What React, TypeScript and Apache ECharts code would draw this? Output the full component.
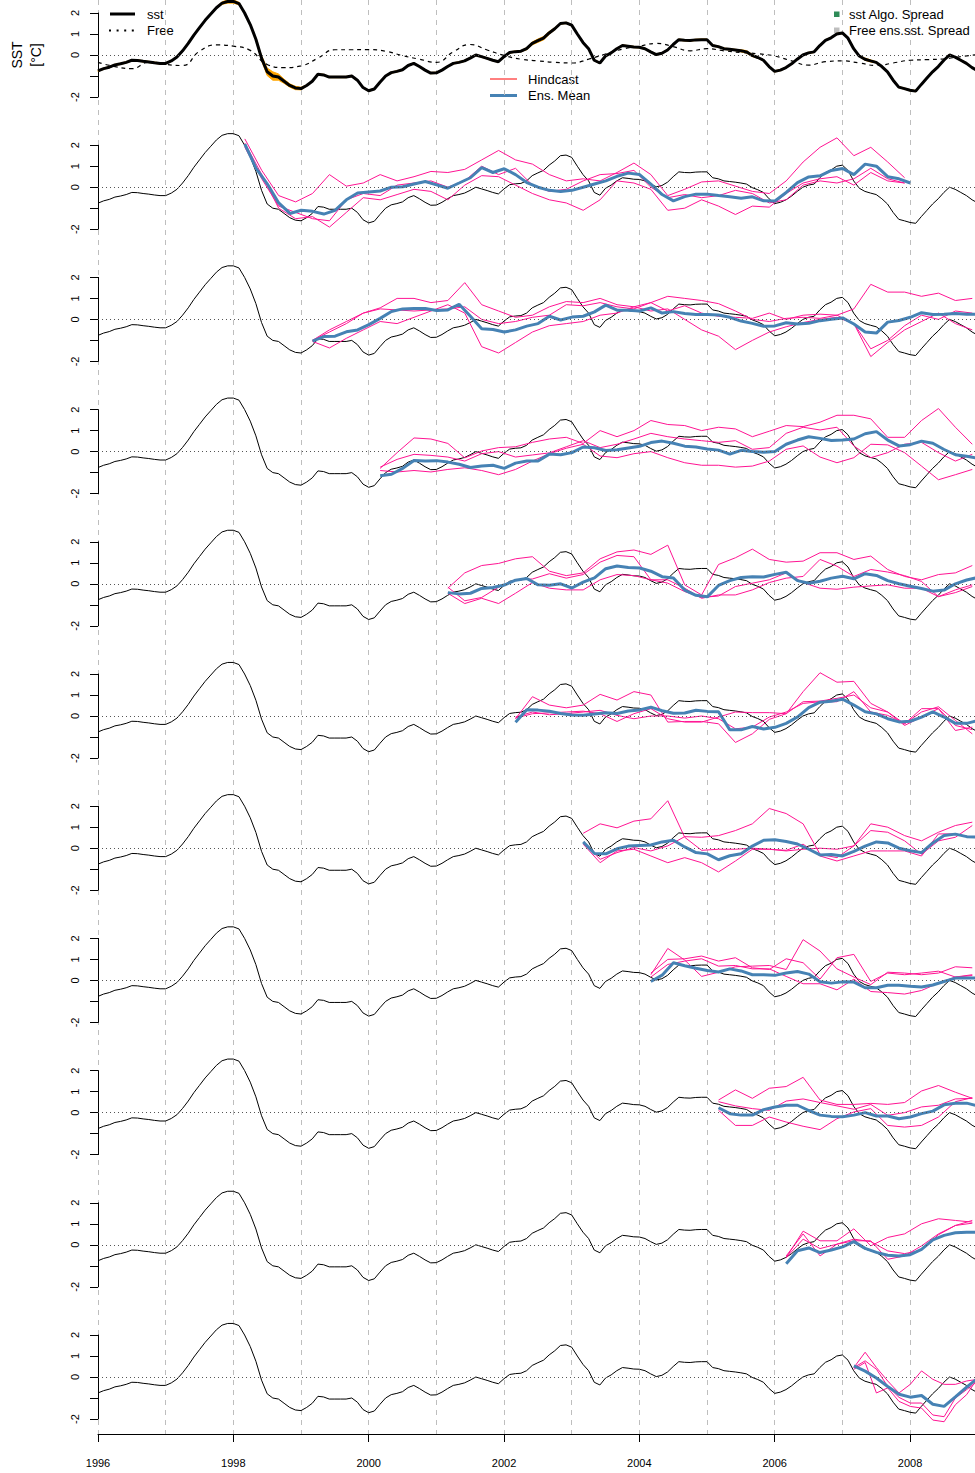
import React, { useEffect, useRef } from "react";
import * as echarts from "echarts";

// ---------- axis / time settings ----------
const X_MIN = 1996;
const X_MAX = 2008.96;
const OBS_START = 1996;
const OBS_STEP = 1 / 12;
const FREE_STEP = 0.25;
const MEAN_STEP = 1 / 6;
const MEMBER_STEP = 0.25;
const Y_TICKS = [-2, -1, 0, 1, 2];
const X_LABEL_YEARS = [1996, 1998, 2000, 2002, 2004, 2006, 2008];

// ---------- observations (monthly, 1996-01 .. 2009-01) ----------
const sst = [
  -0.76, -0.65, -0.58, -0.47, -0.42, -0.35, -0.25, -0.26, -0.3, -0.33, -0.37, -0.4,
  -0.4, -0.28, -0.1, 0.2, 0.55, 0.95, 1.3, 1.65, 1.95, 2.25, 2.47, 2.55,
  2.55, 2.45, 2.0, 1.45, 0.75, -0.15, -0.8, -1.0, -1.05, -1.25, -1.45, -1.57,
  -1.6, -1.45, -1.25, -0.92, -0.95, -1.05, -1.05, -1.05, -1.05, -1.0, -1.2, -1.55,
  -1.7, -1.62, -1.3, -1.0, -0.84, -0.78, -0.7, -0.5, -0.4, -0.55, -0.72, -0.86,
  -0.85, -0.72, -0.55, -0.4, -0.35, -0.28, -0.15, 0.0, -0.08, -0.16, -0.25, -0.32,
  -0.08, 0.12, 0.16, 0.18, 0.3, 0.55, 0.68, 0.8, 1.05, 1.25, 1.5, 1.53,
  1.42, 1.0, 0.6, 0.3, -0.25, -0.38, -0.05, 0.1, 0.3, 0.45, 0.42, 0.38,
  0.37, 0.3, 0.15, 0.02, 0.08, 0.24, 0.5, 0.73, 0.7, 0.69, 0.72, 0.73,
  0.73, 0.45, 0.4, 0.3, 0.27, 0.24, 0.2, 0.15, -0.02, -0.12, -0.25, -0.55,
  -0.78, -0.72, -0.6, -0.42, -0.2, 0.0, 0.1, 0.15, 0.45, 0.7, 0.82, 1.0,
  1.05, 0.8, 0.3, -0.05, -0.2, -0.28, -0.35, -0.55, -0.8, -1.2, -1.53, -1.6,
  -1.68, -1.72, -1.4, -1.1, -0.8, -0.55, -0.25, 0.0, -0.1, -0.25, -0.4, -0.6,
  -0.75,
];

// half-width of the sst algorithm spread (monthly)
const sstSpread = [
  0.03, 0.03, 0.03, 0.03, 0.03, 0.03, 0.03, 0.03, 0.03, 0.03, 0.03, 0.03,
  0.03, 0.03, 0.03, 0.03, 0.03, 0.03, 0.03, 0.03, 0.03, 0.03, 0.06, 0.08,
  0.08, 0.06, 0.03, 0.03, 0.05, 0.12, 0.18, 0.2, 0.15, 0.1, 0.08, 0.08,
  0.06, 0.03, 0.03, 0.03, 0.03, 0.03, 0.03, 0.03, 0.03, 0.03, 0.03, 0.03,
  0.03, 0.03, 0.03, 0.03, 0.03, 0.03, 0.03, 0.03, 0.03, 0.03, 0.03, 0.03,
  0.03, 0.03, 0.03, 0.03, 0.03, 0.03, 0.03, 0.03, 0.03, 0.03, 0.03, 0.03,
  0.03, 0.03, 0.03, 0.03, 0.05, 0.07, 0.08, 0.08, 0.07, 0.05, 0.03, 0.03,
  0.03, 0.03, 0.03, 0.03, 0.03, 0.03, 0.03, 0.03, 0.03, 0.03, 0.03, 0.03,
  0.03, 0.03, 0.03, 0.03, 0.03, 0.03, 0.03, 0.03, 0.03, 0.03, 0.03, 0.03,
  0.03, 0.03, 0.03, 0.03, 0.03, 0.03, 0.05, 0.06, 0.05, 0.03, 0.03, 0.03,
  0.03, 0.03, 0.03, 0.03, 0.03, 0.03, 0.03, 0.03, 0.03, 0.03, 0.03, 0.03,
  0.03, 0.03, 0.03, 0.03, 0.05, 0.05, 0.03, 0.03, 0.03, 0.03, 0.03, 0.03,
  0.03, 0.03, 0.03, 0.03, 0.03, 0.03, 0.03, 0.03, 0.03, 0.03, 0.03, 0.03,
  0.03,
];

// free run (quarterly, 1996.0 .. 2009.0)
const freeRun = [
  -0.35, -0.55, -0.65, -0.35, -0.45, -0.5, 0.18, 0.48, 0.42, 0.22, -0.45, -0.6,
  -0.52, -0.15, 0.25, 0.25, 0.26, 0.18, -0.03, -0.2, -0.35, 0.15, 0.5, 0.24,
  -0.02, -0.2, -0.28, -0.35, -0.38, -0.2, 0.05, 0.28, 0.42, 0.55, 0.4, 0.2,
  0.3, 0.2, 0.12, 0.06, -0.05, -0.28, -0.48, -0.32, -0.28, -0.38, -0.5, -0.38,
  -0.25, -0.22, -0.18, -0.08, 0.02,
];

// ---------- hindcasts: ensemble means (2-monthly) and 3 members (quarterly) ----------
const mean2 = [
  2.05, 0.9, 0.15, -0.75, -1.25, -1.1, -1.15, -1.28, -1.1, -0.6,
  -0.28, -0.23, -0.18, 0.0, 0.02, 0.15, 0.27, 0.11, -0.05, 0.2,
  0.45, 0.93, 0.7, 0.88, 0.6, 0.22, 0.0, -0.15, -0.2, -0.15,
  0.0, 0.15, 0.3, 0.52, 0.67, 0.6, 0.15, -0.35, -0.65, -0.45,
  -0.33, -0.33, -0.4, -0.46, -0.53, -0.46, -0.65, -0.66, -0.25, 0.22,
  0.49, 0.54, 0.8, 0.89, 0.6, 1.1, 1.0, 0.5, 0.4, 0.2,
];
const m2a = [2.3, 0.8, -0.4, -0.7, -0.3, 0.6, 0.05, 0.2, 0.6, 0.3, 0.5, 0.75, 0.7, 0.85, 1.3, 1.75, 1.3, 1.1, 0.6, 0.3, 0.4, 0.3, 0.7, 1.15, 0.6, -0.4, -0.1, 0.25, 0.3, 0.05, -0.2, -0.3, 0.3, 1.2, 1.9, 2.35, 1.5, 1.9, 1.2, 0.45];
const m2b = [2.1, 0.6, -1.0, -1.5, -1.4, -1.9, -1.2, -0.5, -0.6, -0.35, -0.1, -0.2, -0.6, 0.1, 0.55, 0.5, 0.1, -0.3, -0.6, -0.75, -1.1, -0.6, 0.3, 0.2, -0.1, -1.1, -1.0, -0.6, -0.9, -1.3, -0.9, -0.95, -0.3, 0.2, 0.4, 0.5, 0.1, 0.7, 0.3, 0.2];
const m2c = [1.9, 0.4, -0.9, -1.2, -1.5, -1.6, -0.6, -0.3, -0.4, 0.1, 0.2, 0.3, 0.0, 0.3, 1.0, 0.6, 0.9, 0.1, -0.2, -0.1, 0.3, 0.6, 0.65, 0.8, 0.0, -0.5, -0.35, -0.5, -0.4, -0.15, -0.3, -0.75, -0.6, 0.1, 0.3, 0.2, 0.4, 0.9, 0.4, 0.2];

const mean3 = [
  -1.03, -0.82, -0.8, -0.59, -0.5, -0.25, 0.05, 0.38, 0.5, 0.52,
  0.52, 0.42, 0.45, 0.72, 0.15, -0.45, -0.48, -0.6, -0.5, -0.32,
  -0.2, 0.15, -0.03, 0.11, 0.15, 0.36, 0.68, 0.44, 0.44, 0.4,
  0.55, 0.3, 0.37, 0.28, 0.23, 0.23, 0.21, 0.1, -0.08, -0.19,
  -0.33, -0.31, -0.16, -0.22, -0.18, -0.06, 0.01, 0.07, -0.22, -0.6,
  -0.65, -0.13, -0.05, 0.1, 0.32, 0.23, 0.25, 0.28, 0.24, 0.25,
];
const m3a = [-1.0, -0.6, -0.2, 0.3, 0.55, 1.0, 1.0, 0.8, 0.9, 1.75, 0.7, 0.4, 0.1, 0.2, 0.6, 0.85, 0.8, 1.0, 0.7, 0.6, 0.8, 1.1, 1.0, 0.9, 0.75, 0.4, 0.0, -0.1, 0.05, 0.1, 0.05, 0.2, 0.5, 1.67, 1.3, 1.3, 1.1, 1.25, 0.9, 1.0];
const m3b = [-1.05, -1.36, -0.9, -0.5, -0.1, -0.2, 0.1, 0.4, 0.7, 0.3, -1.3, -1.6, -1.1, -0.6, -0.3, -0.2, -0.1, 0.2, 0.3, 0.6, 0.4, 0.5, 0.0, -0.5, -0.8, -1.44, -1.0, -0.6, -0.35, -0.15, 0.0, 0.1, -0.2, -1.77, -1.1, -0.5, -0.1, 0.3, -0.2, -0.5];
const m3c = [-1.0, -0.5, -0.1, 0.3, 0.5, 0.45, 0.4, 0.45, 0.5, 0.6, 0.0, -0.2, -0.1, 0.1, 0.2, 0.7, 0.65, 0.8, 0.6, 0.5, 0.8, 0.4, 0.65, 0.3, 0.15, 0.1, 0.05, 0.3, 0.0, 0.2, 0.25, 0.2, -0.2, -1.4, -1.0, -0.3, 0.2, 0.0, 0.4, 0.3];

const mean4 = [
  -1.15, -1.08, -0.8, -0.42, -0.45, -0.43, -0.5, -0.6, -0.76, -0.69,
  -0.65, -0.8, -0.55, -0.45, -0.45, -0.12, -0.15, -0.05, 0.22, 0.18,
  0.05, 0.09, 0.17, 0.25, 0.43, 0.5, 0.4, 0.26, 0.22, 0.12,
  0.07, -0.12, 0.06, 0.01, -0.03, 0.0, 0.35, 0.55, 0.71, 0.63,
  0.53, 0.55, 0.6, 0.85, 0.95, 0.55, 0.27, 0.33, 0.5, 0.4,
  0.1, -0.15, -0.22, -0.32,
];
const m4a = [-0.8, -0.05, 0.65, 0.6, 0.39, -0.3, 0.03, 0.19, 0.23, 0.44, 0.6, 0.68, 0.39, 1.0, 0.71, 1.0, 1.48, 1.29, 1.24, 1.0, 1.16, 1.08, 0.71, 0.97, 1.24, 1.19, 1.4, 1.73, 1.73, 1.56, 0.68, 0.68, 1.48, 2.05, 1.16, 0.35];
const m4b = [-0.9, -0.97, -0.9, -0.97, -0.85, -0.77, -0.9, -1.1, -0.85, -0.45, -0.1, 0.16, 0.35, -0.21, -0.29, -0.1, 0.0, -0.29, -0.53, -0.65, -0.65, -0.74, -0.69, -0.45, 0.11, 0.27, -0.26, -0.53, -0.29, 0.35, 0.32, -0.05, -0.69, -1.34, -1.1, -0.85];
const m4c = [-0.74, -0.37, -0.13, -0.18, -0.26, -0.45, -0.1, 0.0, -0.26, -0.16, -0.06, 0.23, 0.52, 0.19, 0.35, 0.6, 0.87, 0.71, 0.6, 0.52, 0.44, 0.52, 0.11, 0.19, 0.87, 1.16, 1.03, 1.16, 0.27, -0.29, -0.05, 0.35, 0.44, -0.05, -0.45, -0.13];

const mean5 = [
  -0.42, -0.48, -0.45, -0.22, -0.18, -0.06, 0.17, 0.25, -0.05, -0.07,
  0.0, -0.2, 0.08, 0.28, 0.72, 0.85, 0.78, 0.75, 0.6, 0.34,
  0.28, -0.3, -0.55, -0.62, -0.08, 0.15, 0.3, 0.33, 0.32, 0.45,
  0.55, 0.15, 0.03, 0.12, 0.27, 0.36, 0.24, 0.48, 0.4, 0.15,
  0.0, -0.12, -0.22, -0.35, -0.3, 0.0, 0.18, 0.3,
];
const m5a = [-0.21, 0.52, 0.87, 0.97, 1.19, 1.29, 0.6, 0.39, 0.52, 1.19, 1.52, 1.61, 1.4, 1.84, -0.05, -0.53, 0.92, 1.24, 1.65, 1.16, 1.03, 1.08, 1.48, 1.48, 1.16, 1.32, 0.68, 0.35, 0.19, 0.44, 0.52, 0.87];
const m5b = [-0.16, -0.81, -0.65, -0.16, 0.19, 0.23, 0.48, 0.27, 0.44, 1.03, 1.35, 1.29, 0.19, 0.19, -0.21, -0.69, -0.53, -0.53, -0.29, 0.06, 0.27, 0.35, 1.16, 0.84, 0.35, 0.68, 0.56, 0.39, 0.11, -0.61, -0.29, -0.05];
const m5c = [-0.45, -0.94, -0.69, -0.94, -0.45, 0.06, -0.21, -0.29, -0.29, 0.19, 0.44, 0.39, 0.19, 0.03, -0.37, -0.65, -0.58, -0.13, 0.03, 0.19, 0.52, 0.06, -0.21, -0.26, -0.16, -0.1, -0.05, -0.21, -0.21, -0.61, -0.42, -0.13];

const mean6 = [
  -0.3, 0.3, 0.28, 0.23, 0.12, 0.05, 0.04, 0.09, 0.15, 0.12,
  0.24, 0.29, 0.42, 0.25, 0.13, 0.14, 0.27, 0.22, 0.2, -0.66,
  -0.66, -0.5, -0.62, -0.54, -0.35, -0.05, 0.4, 0.66, 0.7, 0.8,
  0.52, 0.2, 0.1, -0.13, -0.28, -0.25, -0.05, 0.2, -0.05, -0.35,
  -0.35, -0.22,
];
const m6a = [-0.1, 0.11, 0.15, 0.19, 0.23, 0.11, -0.26, 0.11, 0.35, -0.13, -0.29, -0.29, -0.05, 0.19, 0.16, 0.16, 0.11, 1.16, 2.06, 1.61, 1.65, 0.6, 0.19, -0.37, 0.35, 0.35, -0.69, -0.53];
const m6b = [-0.13, 0.92, 0.52, 0.39, 0.52, 1.03, 0.76, 1.16, 1.0, -0.29, -0.26, -0.26, -0.37, -1.26, -0.85, -0.16, 0.11, 0.68, 0.71, 0.84, 1.0, 0.39, 0.19, -0.45, -0.05, 0.35, -0.45, -0.65];
const m6c = [-0.05, 0.19, 0.06, 0.11, 0.19, 0.27, 0.03, -0.13, 0.0, 0.0, -0.1, 0.0, -0.13, -0.61, -0.53, -0.05, 0.19, 0.6, 0.68, 0.68, 1.16, 0.19, 0.03, -0.37, 0.19, 0.44, -0.21, -0.85];

const mean7 = [
  0.3, -0.25, -0.27, -0.03, 0.1, 0.13, 0.15, 0.3, 0.38, 0.06,
  -0.21, -0.27, -0.55, -0.36, -0.26, 0.1, 0.38, 0.4, 0.32, 0.2,
  -0.05, -0.32, -0.3, -0.37, -0.15, 0.1, 0.3, 0.25, 0.0, -0.12,
  -0.21, 0.25, 0.6, 0.67, 0.55, 0.52,
];
const m7a = [0.71, 1.16, 0.97, 1.29, 1.4, 2.26, 0.52, -0.1, -0.05, -0.05, 0.0, -0.05, -0.13, -0.05, 0.0, -0.05, 0.11, 1.16, 1.0, 0.6, 0.35, 0.76, 1.08, 1.24];
const m7b = [0.27, -0.53, -0.21, 0.03, -0.13, 0.11, 0.55, 0.52, 0.6, 0.84, 1.16, 1.89, 1.65, 1.16, -0.29, -0.45, 0.11, 0.84, 0.76, 0.35, -0.29, 0.35, 0.52, 1.08];
const m7c = [0.19, -0.69, -0.13, -0.05, -0.37, -0.69, -0.45, -0.69, -1.13, -0.61, -0.05, -0.05, -0.1, 0.19, -0.37, -0.61, -0.37, -0.13, -0.13, -0.13, -0.37, 0.68, 0.68, 0.52];

const mean8 = [
  -0.05, 0.25, 0.84, 0.7, 0.58, 0.47, 0.4, 0.55, 0.45, 0.27,
  0.27, 0.24, 0.35, 0.42, 0.3, -0.06, -0.13, -0.07, -0.08, -0.35,
  -0.35, -0.23, -0.23, -0.28, -0.31, -0.22, -0.05, 0.11, 0.11, 0.11,
];
const m8a = [0.27, 1.52, 0.97, 0.19, 0.39, 0.65, 0.68, 0.71, 0.52, 1.94, 1.4, 0.55, 0.16, -0.2, 0.39, 0.35, 0.27, 0.35, 0.65, 0.6];
const m8b = [0.35, 1.0, 1.03, 1.16, 0.92, 1.08, 0.6, 0.52, 1.03, 0.84, 0.06, 1.08, 1.24, -0.05, 0.35, 0.27, 0.35, 0.44, 0.16, 0.23];
const m8c = [0.16, 0.76, 0.92, 1.03, 0.68, 0.71, 0.55, 0.55, 0.19, -0.16, -0.16, -0.45, 0.06, -0.53, -0.58, -0.65, -0.48, -0.13, 0.16, 0.27];

const mean9 = [
  0.23, -0.05, -0.12, -0.12, 0.14, 0.27, 0.35, 0.35, 0.1, -0.12,
  -0.18, -0.2, -0.12, 0.0, -0.16, -0.16, -0.29, -0.21, -0.05, 0.07,
  0.37, 0.45, 0.45, 0.32,
];
const m9a = [0.6, 1.08, 0.68, 1.16, 1.24, 1.68, 0.6, 0.39, 0.39, 0.44, 0.39, 0.48, 1.03, 1.29, 0.97, 0.68];
const m9b = [0.52, 0.32, 0.19, 0.11, 0.55, 0.65, 0.48, 0.32, 0.16, 0.39, -0.13, 0.0, 0.27, 0.35, 0.65, 0.68];
const m9c = [0.11, -0.61, -0.61, -0.21, -0.45, -0.65, -0.81, -0.29, 0.03, 0.19, -0.61, -0.69, -0.61, -0.21, 0.52, 0.71];

const mean10 = [-0.9, -0.28, -0.15, -0.37, -0.25, -0.1, 0.15, -0.17, -0.36, -0.5, -0.53, -0.47, -0.22, 0.23, 0.45, 0.57, 0.6, 0.6];
const m10a = [-0.61, 0.65, 0.19, 0.19, 0.76, -0.05, 0.35, 0.52, 1.0, 1.24, 1.16, 1.08];
const m10b = [-0.53, 0.52, -0.53, 0.03, 0.27, 0.15, -0.29, -0.42, -0.26, 0.48, 0.92, 1.16];
const m10c = [-0.61, 0.27, -0.18, 0.03, 0.19, 0.19, -0.69, -0.53, -0.05, 0.52, 0.92, 1.03];

const mean11 = [0.53, 0.28, -0.05, -0.45, -0.82, -0.96, -0.88, -1.3, -1.4, -0.95, -0.48, -0.05];
const m11a = [0.45, 1.18, 0.45, -0.19, -0.76, -0.35, 0.29, -0.11, -0.35, -0.35, -0.19, -0.11];
const m11b = [0.37, 0.69, -0.76, -0.52, -1.16, -1.4, -1.48, -2.05, -2.13, -1.32, -0.84, -0.03];
const m11c = [0.45, 0.77, 0.37, -0.44, -0.97, -1.24, -1.24, -1.81, -1.89, -1.0, -0.6, -0.19];

const hindcastStarts = [1998.17, 1999.17, 2000.17, 2001.17, 2002.17, 2003.17, 2004.17, 2005.17, 2006.17, 2007.17];
const hindcastMeans = [mean2, mean3, mean4, mean5, mean6, mean7, mean8, mean9, mean10, mean11];
const hindcastMembers = [
  [m2a, m2b, m2c], [m3a, m3b, m3c], [m4a, m4b, m4c], [m5a, m5b, m5c], [m6a, m6b, m6c],
  [m7a, m7b, m7c], [m8a, m8b, m8c], [m9a, m9b, m9c], [m10a, m10b, m10c], [m11a, m11b, m11c],
];
const hindcastMemberSteps = [MEMBER_STEP, MEMBER_STEP, MEMBER_STEP, MEMBER_STEP, MEMBER_STEP, MEMBER_STEP, MEMBER_STEP, MEMBER_STEP, MEMBER_STEP, 1 / 6];

// ---------- styling ----------
const FONT = "Liberation Sans, Arial, Helvetica, sans-serif";
const C_OBS = "#000000";
const C_MEMBER = "#FF1493";
const C_MEAN = "#4682B4";
const C_SPREAD = "#FFA500";
const C_GRID = "#BEBEBE";

const GRID_LEFT = 98;
const GRID_WIDTH = 877;
const ZERO_TOP = 55;
const PANEL_STEP = 132.2;
const HALF_H = 42;
const AXIS_BOTTOM = 1434;

const pairs = (start: number, step: number, vals: number[]) =>
  vals.map((v, i) => [Math.round((start + i * step) * 10000) / 10000, v]);

function buildOption() {
  const nPanels = 11;
  const grids: any[] = [];
  const xAxes: any[] = [];
  const yAxes: any[] = [];
  const series: any[] = [];

  for (let p = 0; p < nPanels; p++) {
    const zero = ZERO_TOP + PANEL_STEP * p;
    grids.push({ left: GRID_LEFT, width: GRID_WIDTH, top: zero - HALF_H, height: HALF_H * 2, containLabel: false });
    xAxes.push({ type: "value", gridIndex: p, min: X_MIN, max: X_MAX, show: false });
    yAxes.push({
      type: "value",
      gridIndex: p,
      min: -2,
      max: 2,
      interval: 1,
      axisLine: { show: true, lineStyle: { color: "#000", width: 1 } },
      axisTick: { show: true, length: 8, lineStyle: { color: "#000", width: 1 } },
      axisLabel: {
        show: true,
        rotate: 90,
        margin: 18,
        fontSize: 11,
        color: "#000",
        fontFamily: FONT,
        formatter: (v: number) => (Y_TICKS.includes(v) && v !== -1 ? String(v) : ""),
      },
      splitLine: { show: false },
    });
  }

  // full-height grid for year lines and the shared bottom time axis
  grids.push({ left: GRID_LEFT, width: GRID_WIDTH, top: 0, height: AXIS_BOTTOM });
  xAxes.push({
    type: "value",
    gridIndex: nPanels,
    position: "top",
    min: X_MIN,
    max: X_MAX,
    interval: 1,
    axisLine: { show: false },
    axisTick: { show: false },
    axisLabel: { show: false },
    splitLine: { show: true, showMaxLine: false, lineStyle: { color: C_GRID, width: 1, type: [5, 5] } },
  });
  xAxes.push({
    type: "value",
    gridIndex: nPanels,
    position: "bottom",
    min: X_MIN,
    max: X_MAX,
    interval: 2,
    axisLine: { show: true, onZero: false, lineStyle: { color: "#000", width: 1 } },
    axisTick: { show: true, length: 8, lineStyle: { color: "#000", width: 1 } },
    axisLabel: {
      show: true,
      fontSize: 11,
      margin: 23,
      color: "#000",
      fontFamily: FONT,
      showMaxLabel: false,
      formatter: (v: number) => (X_LABEL_YEARS.includes(v) ? String(v) : ""),
    },
    splitLine: { show: false },
  });
  yAxes.push({ type: "value", gridIndex: nPanels, min: 0, max: 1, show: false });

  const zeroLine = {
    silent: true,
    symbol: ["none", "none"],
    label: { show: false },
    lineStyle: { color: "#555", width: 1, type: [1, 3] },
    data: [{ yAxis: 0 }],
  };

  const obsPairs = pairs(OBS_START, OBS_STEP, sst);
  const common = { type: "line", showSymbol: false, symbol: "none", clip: false, silent: true };

  // top panel: spread band around sst, drawn through the panel's own scales
  series.push({
    type: "custom",
    name: "sst spread",
    xAxisIndex: 0,
    yAxisIndex: 0,
    silent: true,
    clip: false,
    data: [[X_MIN, 0]],
    renderItem: (_params: any, api: any) => {
      const upper = sst.map((v, i) => api.coord([OBS_START + i * OBS_STEP, v + sstSpread[i]]));
      const lower = sst.map((v, i) => api.coord([OBS_START + i * OBS_STEP, v - sstSpread[i]])).reverse();
      return {
        type: "polygon",
        shape: { points: upper.concat(lower) },
        style: { fill: C_SPREAD, stroke: C_SPREAD, lineWidth: 1 },
      };
    },
  });
  series.push({
    ...common,
    name: "Free",
    xAxisIndex: 0,
    yAxisIndex: 0,
    smooth: true,
    lineStyle: { color: "#000", width: 1.2, type: [4, 4] },
    data: pairs(OBS_START, FREE_STEP, freeRun),
    markLine: zeroLine,
  });
  series.push({
    ...common,
    name: "sst",
    xAxisIndex: 0,
    yAxisIndex: 0,
    lineStyle: { color: C_OBS, width: 3 },
    data: obsPairs,
  });

  // hindcast panels
  for (let h = 0; h < hindcastStarts.length; h++) {
    const p = h + 1;
    series.push({
      ...common,
      name: "sst-" + p,
      xAxisIndex: p,
      yAxisIndex: p,
      lineStyle: { color: C_OBS, width: 1 },
      data: obsPairs,
      markLine: zeroLine,
    });
    hindcastMembers[h].forEach((m, k) => {
      series.push({
        ...common,
        name: "Hindcast-" + p + "-" + k,
        xAxisIndex: p,
        yAxisIndex: p,
        lineStyle: { color: C_MEMBER, width: 1 },
        data: pairs(hindcastStarts[h], hindcastMemberSteps[h], m),
      });
    });
    series.push({
      ...common,
      name: "Ens. Mean-" + p,
      xAxisIndex: p,
      yAxisIndex: p,
      lineStyle: { color: C_MEAN, width: 3 },
      data: pairs(hindcastStarts[h], MEAN_STEP, hindcastMeans[h]),
    });
  }

  const txt = (text: string, x: number, y: number, size = 13, extra: any = {}) => ({
    type: "text",
    x,
    y,
    silent: true,
    ...extra,
    style: {
      text,
      fill: "#000",
      fontSize: size,
      fontFamily: FONT,
      align: extra.align || "left",
      textAlign: extra.align || "left",
      verticalAlign: "middle",
      textVerticalAlign: "middle",
    },
  });

  const graphic = [
    { type: "line", silent: true, shape: { x1: 110, y1: 14, x2: 135, y2: 14 }, style: { stroke: "#000", lineWidth: 3 } },
    txt("sst", 147, 14),
    { type: "line", silent: true, shape: { x1: 109, y1: 30.5, x2: 136, y2: 30.5 }, style: { stroke: "#000", lineWidth: 2, lineDash: [2, 5.6] } },
    txt("Free", 147, 30.5),
    { type: "rect", silent: true, shape: { x: 834, y: 11.5, width: 5.5, height: 5.5 }, style: { fill: "#2E8B57" } },
    txt("sst Algo. Spread", 849, 14.5),
    { type: "rect", silent: true, shape: { x: 834, y: 27.5, width: 5.5, height: 5.5 }, style: { fill: "#BEBEBE" } },
    txt("Free ens.sst. Spread", 849, 30.5),
    { type: "line", silent: true, shape: { x1: 490, y1: 79, x2: 517, y2: 79 }, style: { stroke: "#FF0000", lineWidth: 1 } },
    txt("Hindcast", 528, 79),
    { type: "line", silent: true, shape: { x1: 490, y1: 95.5, x2: 517, y2: 95.5 }, style: { stroke: C_MEAN, lineWidth: 3 } },
    txt("Ens. Mean", 528, 95.5),
    txt("SST", 17, 55, 14, { rotation: Math.PI / 2, align: "center" }),
    txt("[°C]", 36, 55, 14, { rotation: Math.PI / 2, align: "center" }),
  ];

  return {
    animation: false,
    backgroundColor: "#ffffff",
    textStyle: { fontFamily: FONT },
    grid: grids,
    xAxis: xAxes,
    yAxis: yAxes,
    series,
    graphic,
  };
}

export default function App() {
  const ref = useRef<HTMLDivElement>(null);
  useEffect(() => {
    if (!ref.current) return;
    const chart = echarts.init(ref.current, null, { renderer: "svg" });
    chart.setOption(buildOption() as any);
    return () => chart.dispose();
  }, []);
  return (
    <div
      ref={ref}
      style={{ position: "absolute", left: 0, top: 0, width: 975, height: 1473, background: "#fff" }}
    />
  );
}
